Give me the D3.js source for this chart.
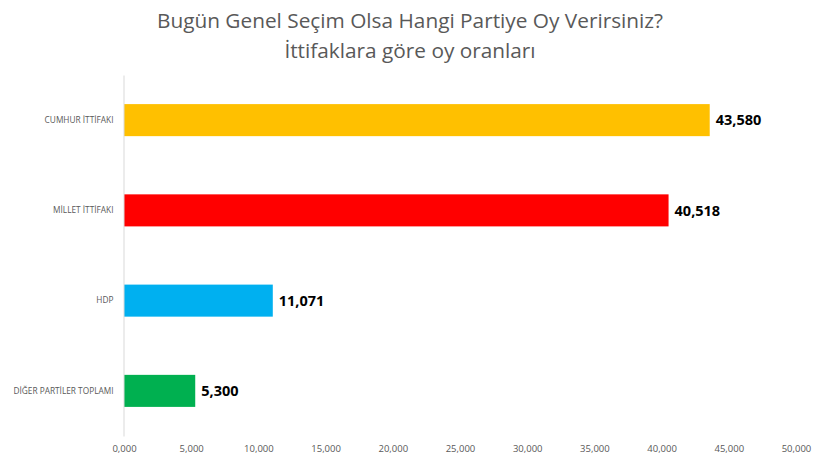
<!DOCTYPE html>
<html>
<head>
<meta charset="utf-8">
<script src="https://cdn.jsdelivr.net/npm/d3@7"></script>
<style>
  body { margin: 0; background: #fff; }
  svg { display: block; }
</style>
</head>
<body>
<svg></svg>
<script>
// chart data
let categories = ['CUMHUR İTTİFAKI', 'MİLLET İTTİFAKI', 'HDP', 'DİĞER PARTİLER TOPLAMI'];
let values = [43.580, 40.518, 11.071, 5.300];
let valueLabels = ['43,580', '40,518', '11,071', '5,300'];
let colors = ['#FFC000', '#FF0000', '#00B0F0', '#00B050'];
let tickValues = [0, 5, 10, 15, 20, 25, 30, 35, 40, 45, 50];
let tickLabels = ['0,000', '5,000', '10,000', '15,000', '20,000', '25,000', '30,000', '35,000', '40,000', '45,000', '50,000'];
let titleLines = ['Bugün Genel Seçim Olsa Hangi Partiye Oy Verirsiniz?', 'İttifaklara göre oy oranları'];

let width = 820;
let height = 461;
let plotLeft = 124;
let plotRight = 796;
let plotTop = 75;
let plotBottom = 436;

let svg = d3.select('svg')
            .attr('width', width)
            .attr('height', height);

let xScale = d3.scaleLinear()
               .domain([0, 50])
               .range([plotLeft, plotRight]);

let yScale = d3.scaleBand()
               .domain(categories)
               .range([plotTop, plotBottom])
               .paddingInner(0.645)
               .paddingOuter(0.3225);

// title
svg.append('g')
   .selectAll('text')
   .data(titleLines)
   .join('text')
   .attr('x', 410)
   .attr('y', (d, i) => 28 + i * 30)
   .attr('text-anchor', 'middle')
   .attr('font-family', 'Open Sans, sans-serif')
   .attr('font-size', 20.8)
   .attr('fill', '#595959')
   .text(d => d);

// bars
svg.append('g')
   .selectAll('rect')
   .data(values)
   .join('rect')
   .attr('x', xScale(0))
   .attr('y', (d, i) => yScale(categories[i]))
   .attr('width', d => xScale(d) - xScale(0))
   .attr('height', yScale.bandwidth())
   .attr('fill', (d, i) => colors[i]);

// value labels
svg.append('g')
   .selectAll('text')
   .data(values)
   .join('text')
   .attr('x', d => xScale(d) + 6)
   .attr('y', (d, i) => yScale(categories[i]) + yScale.bandwidth() / 2)
   .attr('dy', '0.36em')
   .attr('font-family', 'Open Sans, sans-serif')
   .attr('font-weight', 'bold')
   .attr('font-size', 14.5)
   .attr('fill', '#000')
   .text((d, i) => valueLabels[i]);

// y axis (category labels + line)
let yAxis = d3.axisLeft(yScale).tickSize(0).tickPadding(10);
let yG = svg.append('g')
            .attr('transform', `translate(${plotLeft - 0.5},0)`)
            .call(yAxis);
yG.select('.domain').attr('stroke', '#d9d9d9');
yG.selectAll('text')
  .attr('font-family', 'Open Sans, sans-serif')
  .attr('font-size', 8.3)
  .attr('fill', '#595959');

// x axis (labels only)
let xAxis = d3.axisBottom(xScale)
              .tickValues(tickValues)
              .tickFormat((d, i) => tickLabels[i])
              .tickSize(0)
              .tickPadding(9);
let xG = svg.append('g')
            .attr('transform', `translate(0,${plotBottom})`)
            .call(xAxis);
xG.select('.domain').remove();
xG.selectAll('text')
  .attr('font-family', 'Open Sans, sans-serif')
  .attr('font-size', 9.5)
  .attr('fill', '#595959');
</script>
</body>
</html>
